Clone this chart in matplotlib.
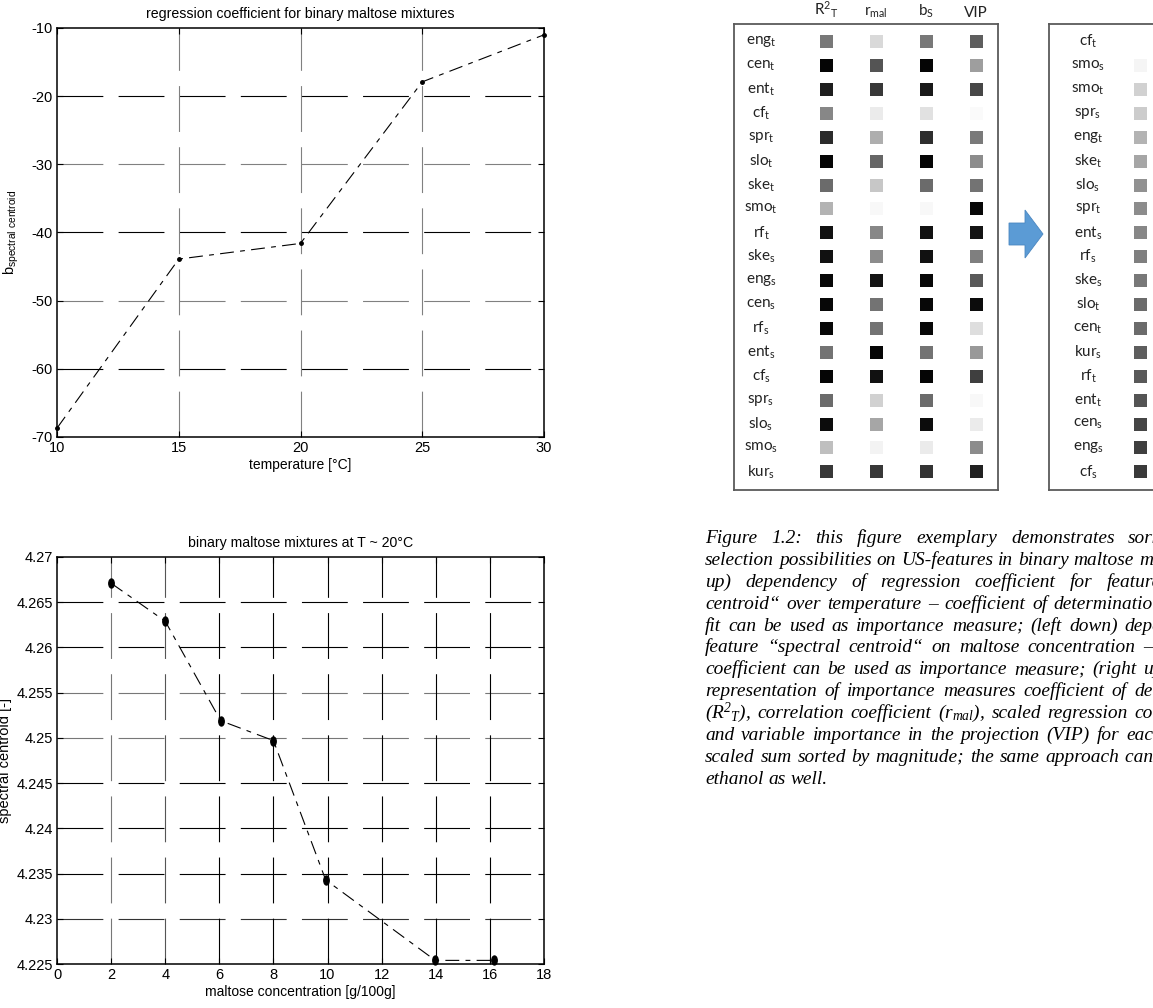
import matplotlib
matplotlib.use('Agg')
import matplotlib.pyplot as plt
import numpy as np
from matplotlib.patches import Polygon
from matplotlib.path import Path
from matplotlib.transforms import Affine2D

W, H = 1153, 1008
plt.rcParams['lines.scale_dashes'] = False
plt.rcParams['axes.unicode_minus'] = False
plt.rcParams['font.family'] = ['Liberation Sans', 'DejaVu Sans']

# ---------------- data ----------------
temperature = [10, 15, 20, 25, 30]
b_spectral_centroid = [-68.7, -43.9, -41.6, -17.9, -11.0]

maltose_conc = [2, 4, 6.05, 8, 9.93, 13.98, 16.15]
spectral_centroid = [4.2671, 4.2629, 4.2519, 4.2497, 4.2343, 4.2254, 4.2254]

top_xticks = [10, 15, 20, 25, 30]
top_yticks = [-70, -60, -50, -40, -30, -20, -10]
bot_xticks = [0, 2, 4, 6, 8, 10, 12, 14, 16, 18]
bot_yticks = [4.225, 4.23, 4.235, 4.24, 4.245, 4.25, 4.255, 4.26, 4.265, 4.27]

features = ['eng_t', 'cen_t', 'ent_t', 'cf_t', 'spr_t', 'slo_t', 'ske_t', 'smo_t', 'rf_t',
            'ske_s', 'eng_s', 'cen_s', 'rf_s', 'ent_s', 'cf_s', 'spr_s', 'slo_s', 'smo_s', 'kur_s']
measures = [r'$\mathregular{R^{2}{}_{T}}$', r'$\mathregular{r_{mal}}$', r'$\mathregular{b_S}$', 'VIP']
# importance (0 = white, 1 = black)
R2T  = [0.53, 0.98, 0.88, 0.47, 0.83, 0.98, 0.58, 0.30, 0.93, 0.93, 0.97, 0.97, 0.97, 0.55, 0.98, 0.58, 0.95, 0.25, 0.78]
rmal = [0.15, 0.67, 0.78, 0.08, 0.32, 0.60, 0.22, 0.03, 0.47, 0.45, 0.92, 0.55, 0.55, 0.98, 0.93, 0.18, 0.35, 0.05, 0.78]
bS   = [0.53, 0.98, 0.90, 0.12, 0.82, 0.98, 0.58, 0.03, 0.93, 0.93, 0.97, 0.97, 0.97, 0.55, 0.98, 0.58, 0.95, 0.08, 0.80]
VIP  = [0.63, 0.38, 0.72, 0.02, 0.52, 0.45, 0.55, 0.97, 0.92, 0.50, 0.65, 0.95, 0.13, 0.40, 0.75, 0.03, 0.08, 0.45, 0.87]

sorted_features = ['cf_t', 'smo_s', 'smo_t', 'spr_s', 'eng_t', 'ske_t', 'slo_s', 'spr_t', 'ent_s', 'rf_s',
                   'ske_s', 'slo_t', 'cen_t', 'kur_s', 'rf_t', 'ent_t', 'cen_s', 'eng_s', 'cf_s']
sorted_sum = [0.00, 0.04, 0.18, 0.20, 0.30, 0.35, 0.43, 0.45, 0.47, 0.50,
              0.53, 0.58, 0.58, 0.63, 0.65, 0.67, 0.73, 0.75, 0.77]

caption_lines = [
    'Figure 1.2: this figure exemplary demonstrates sor',
    'selection possibilities on US-features in binary maltose m',
    'up) dependency of regression coefficient for featur',
    'centroid\u201c over temperature \u2013 coefficient of determinatio',
    'fit can be used as importance measure; (left down) dep',
    'feature \u201cspectral centroid\u201c on maltose concentration \u2013',
    'coefficient can be used as importance measure; (right u',
    'representation of importance measures coefficient of de',
    r'($\mathregular{R^{2}{}_{T}}$), correlation coefficient ($\mathregular{r_{mal}}$), scaled regression co',
    'and variable importance in the projection (VIP) for eac',
    'scaled sum sorted by magnitude; the same approach can',
    'ethanol as well.',
]
caption_tails = ['me', 'ixtures:', 'e', 'n', 'endency', ' correlation', 'p)', 'termination',
                 'efficient', 'h', ' be', '']


def rect(x0, y0, x1, y1):
    return [x0 / W, 1 - y1 / H, (x1 - x0) / W, (y1 - y0) / H]


def sub_label(s):
    base, sub = s.split('_')
    return r'$\mathregular{' + base + '_{' + sub + '}}$'


fig = plt.figure(figsize=(W / 100, H / 100), dpi=100)

GRID_LS = (0, (33, 11))
LINE_LS = (0, (10, 4.5, 3.5, 4.5))
ellipse = Path.unit_circle().transformed(Affine2D().scale(0.6, 1.0))


def matlab_axes(ax, xticks, yticks, hcolors, vcolors, fmt):
    ax.set_xlim(xticks[0], xticks[-1])
    ax.set_ylim(yticks[0], yticks[-1])
    ax.set_xticks(xticks)
    ax.set_yticks(yticks)
    ax.set_xticklabels([fmt(v) for v in xticks])
    ax.set_yticklabels([fmt(v) for v in yticks])
    ax.tick_params(direction='in', length=4, width=0.8, top=True, right=True,
                   labelsize=10.5, pad=3, colors='black')
    for y, c in zip(yticks[1:-1], hcolors):
        ax.axhline(y, color=c, lw=0.8, ls=GRID_LS, zorder=1)
    for x, c in zip(xticks[1:-1], vcolors):
        ax.axvline(x, color=c, lw=0.8, ls=GRID_LS, zorder=1)
    for sp in ax.spines.values():
        sp.set_linewidth(1.1)
        sp.set_color('black')


# ---------------- top-left chart ----------------
ax1 = fig.add_axes(rect(57, 28, 544, 437))
matlab_axes(ax1, top_xticks, top_yticks,
            ['black', '#808080', 'black', '#808080', 'black'],
            ['#808080', '#808080', '#808080'],
            lambda v: '%g' % v)
ax1.plot(temperature, b_spectral_centroid, color='black', lw=0.8, ls=LINE_LS,
         marker='o', ms=2.5, zorder=3, clip_on=False)
ax1.set_title('regression coefficient for binary maltose mixtures', fontsize=10.2, pad=7)
ax1.set_xlabel('temperature [\u00b0C]', fontsize=10, labelpad=2)
ax1.set_ylabel(r'$\mathregular{b_{spectral\ centroid}}$', fontsize=10.5)
ax1.yaxis.set_label_coords(-0.074, 0.5)

# ---------------- bottom-left chart ----------------
ax2 = fig.add_axes(rect(57, 557, 544, 964))
matlab_axes(ax2, bot_xticks, bot_yticks,
            ['#333333', 'black', 'black', 'black', '#777777', '#777777', 'black', 'black'],
            ['#777777', '#555555', 'black', 'black', 'black', 'black', 'black', 'black'],
            lambda v: '%g' % v)
ax2.plot(maltose_conc, spectral_centroid, color='black', lw=0.8, ls=LINE_LS,
         marker=ellipse, ms=6.5, zorder=3, clip_on=False)
ax2.set_title('binary maltose mixtures at T ~ 20\u00b0C', fontsize=10.2, pad=7)
ax2.set_xlabel('maltose concentration [g/100g]', fontsize=10, labelpad=2)
ax2.set_ylabel('spectral centroid [-]', fontsize=10.5)
ax2.yaxis.set_label_coords(-0.092, 0.5)

# ---------------- importance heat map (left box) ----------------
COL0, COLSTEP, ROW0, ROWSTEP = 826, 50, 41.7, 23.9
BOX_T, BOX_B = 24, 490
LBL = dict(fontfamily=['Lato', 'DejaVu Sans'], fontsize=11, ha='center', va='center', color='#222222')
sq = (13 * 0.72) ** 2


def box_axes(x0, x1, col_px, label_px, right_spine=True):
    ax = fig.add_axes(rect(x0, BOX_T, x1, BOX_B))
    ax.set_xlim((x0 - col_px) / COLSTEP, (x1 - col_px) / COLSTEP)
    ax.set_ylim((BOX_B - ROW0) / ROWSTEP, (BOX_T - ROW0) / ROWSTEP)
    for sp in ax.spines.values():
        sp.set_color('#5a5a5a')
        sp.set_linewidth(1.3)
    ax.spines['right'].set_visible(right_spine)
    ax.set_yticks([])
    return ax, (label_px - col_px) / COLSTEP


hax, lab_x = box_axes(734, 998, COL0, 761)
values = np.column_stack([R2T, rmal, bS, VIP])
cols, rows = np.meshgrid(np.arange(len(measures)), np.arange(len(features)))
hax.scatter(cols.ravel(), rows.ravel(), c=values.ravel(), cmap='gray_r', vmin=0, vmax=1,
            marker='s', s=sq, linewidths=0)
for j, f in enumerate(features):
    hax.text(lab_x, j, sub_label(f), **LBL)
hax.set_xticks(range(len(measures)))
hax.set_xticklabels(measures, fontfamily=['Lato', 'DejaVu Sans'], fontsize=11, color='#222222')
hax.xaxis.tick_top()
hax.tick_params(axis='x', length=0, pad=3)

# ---------------- sorted sum (right box) ----------------
sax, lab_x2 = box_axes(1049, 1320, 1140, 1088, right_spine=False)
sax.scatter(np.zeros(len(sorted_sum)), np.arange(len(sorted_features)), c=sorted_sum,
            cmap='gray_r', vmin=0, vmax=1, marker='s', s=sq, linewidths=0)
for j, f in enumerate(sorted_features):
    sax.text(lab_x2, j, sub_label(f), **LBL)
sax.set_xticks([])

# ---------------- overlay: arrow + caption ----------------
ov = fig.add_axes([0, 0, 1, 1])
ov.set_xlim(0, W)
ov.set_ylim(H, 0)
ov.axis('off')
ov.patch.set_alpha(0)

acx, acy = 1009, 234
arrow = Polygon([[acx, acy - 11], [acx + 16, acy - 11], [acx + 16, acy - 24], [acx + 34, acy],
                 [acx + 16, acy + 24], [acx + 16, acy + 11], [acx, acy + 11]],
                closed=True, facecolor='#5B9BD5', edgecolor='#4a86c0', lw=0.6)
ov.add_patch(arrow)

renderer = fig.canvas.get_renderer()
capstyle = dict(fontfamily=['Liberation Serif', 'DejaVu Serif'], fontstyle='italic',
                va='baseline', ha='left', color='black')


def text_width(s, fs):
    t = ov.text(0, 0, s, fontsize=fs, **capstyle)
    w = t.get_window_extent(renderer).width
    t.remove()
    return w


ref = caption_lines[1]
fs = 13 * 446 / text_width(ref, 13)
space_w = text_width('a a', fs) - text_width('aa', fs)

cap_x0, cap_x1 = 705, 1153
base_y, step = 543, 21.9
for i, (line, tail) in enumerate(zip(caption_lines, caption_tails)):
    y = base_y + i * step
    words = line.split(' ')
    texts = [ov.text(0, y, w, fontsize=fs, **capstyle) for w in words]
    widths = [t.get_window_extent(renderer).width for t in texts]
    if i < len(caption_lines) - 1 and len(words) > 1:
        gap = max(space_w, (cap_x1 - cap_x0 - sum(widths)) / (len(words) - 1))
    else:
        gap = space_w
    x = cap_x0
    for t, w in zip(texts, widths):
        t.set_x(x)
        x += w + gap
    texts[-1].set_text(words[-1] + tail)

fig.savefig('out.png', dpi=100)
